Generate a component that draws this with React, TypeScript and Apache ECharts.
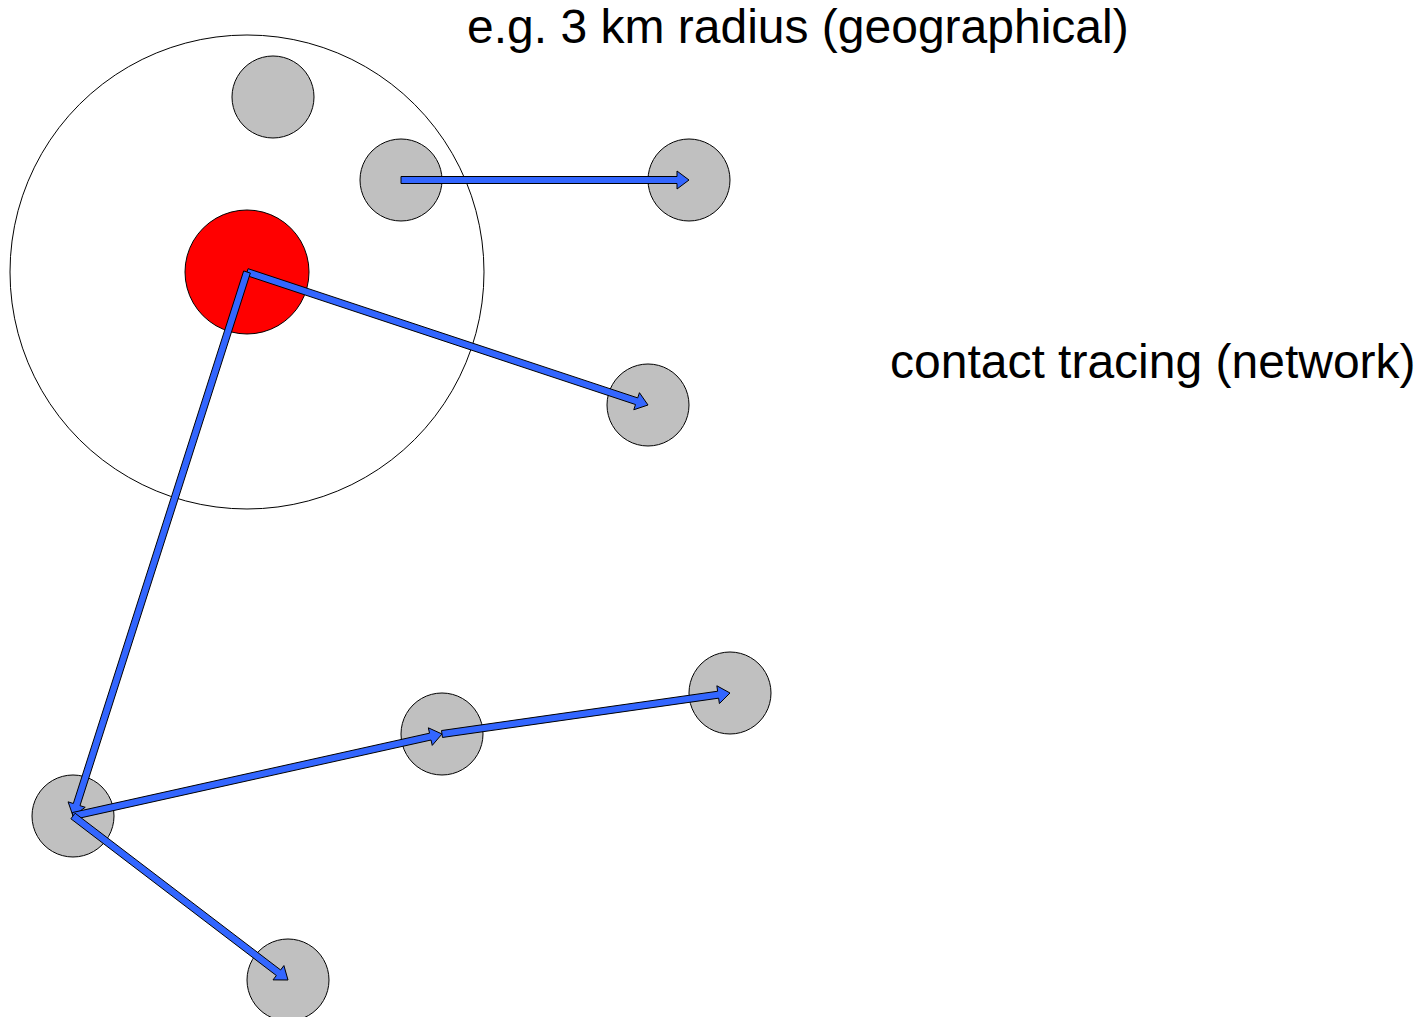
import React, { useEffect, useRef } from "react";
import * as echarts from "echarts";

// Outer geographical radius circle: [cx, cy, diameter]
const radiusCircle = [[247, 272, 474]];
// Index case (red)
const indexCase = [[247, 272, 124]];
// Contacts (gray): [x, y]
const contacts = [
  [273, 97],
  [401, 180],
  [689, 180],
  [648, 405],
  [73, 816],
  [442, 734],
  [730, 693],
  [288, 980],
];
const contactDiameter = 82;
// Contact-tracing links: [x1, y1, x2, y2]
const links = [
  [401, 180, 689, 180],
  [247, 272, 648, 405],
  [247, 272, 73, 816],
  [73, 816, 442, 734],
  [442, 734, 730, 693],
  [73, 816, 288, 980],
];
const labels = [
  { text: "e.g. 3 km radius (geographical)", x: 467, y: 26 },
  { text: "contact tracing (network)", x: 890, y: 361 },
];

const W = 1420;
const H = 1017;

export default function App() {
  const ref = useRef<HTMLDivElement>(null);
  useEffect(() => {
    if (!ref.current) return;
    const chart = echarts.init(ref.current, undefined, { renderer: "svg" });
    const shaftHalf = 3.5;
    const headHalf = 9;
    const headLen = 12;
    chart.setOption({
      animation: false,
      backgroundColor: "#ffffff",
      grid: { left: 0, right: 0, top: 0, bottom: 0 },
      xAxis: { type: "value", min: 0, max: W, show: false },
      yAxis: { type: "value", min: 0, max: H, inverse: true, show: false },
      series: [
        {
          type: "scatter",
          data: radiusCircle,
          symbol: "circle",
          symbolSize: (v: number[]) => v[2],
          itemStyle: { color: "rgba(0,0,0,0)", borderColor: "#000", borderWidth: 1, opacity: 1 },
          silent: true,
          z: 1,
        },
        {
          type: "scatter",
          data: indexCase,
          symbol: "circle",
          symbolSize: (v: number[]) => v[2],
          itemStyle: { color: "#ff0000", borderColor: "#000", borderWidth: 1, opacity: 1 },
          z: 2,
        },
        {
          type: "scatter",
          data: contacts,
          symbol: "circle",
          symbolSize: contactDiameter,
          itemStyle: { color: "#c0c0c0", borderColor: "#000", borderWidth: 1, opacity: 1 },
          z: 2,
        },
        {
          type: "custom",
          data: links,
          encode: { x: [0, 2], y: [1, 3] },
          z: 3,
          renderItem: (params: any, api: any) => {
            const p1 = api.coord([api.value(0), api.value(1)]);
            const p2 = api.coord([api.value(2), api.value(3)]);
            const dx = p2[0] - p1[0];
            const dy = p2[1] - p1[1];
            const len = Math.sqrt(dx * dx + dy * dy);
            const ux = dx / len;
            const uy = dy / len;
            const nx = -uy;
            const ny = ux;
            const local = [
              [0, -shaftHalf],
              [len - headLen, -shaftHalf],
              [len - headLen, -headHalf],
              [len, 0],
              [len - headLen, headHalf],
              [len - headLen, shaftHalf],
              [0, shaftHalf],
            ];
            const pts = local.map(([a, b]) => [
              p1[0] + ux * a + nx * b,
              p1[1] + uy * a + ny * b,
            ]);
            return {
              type: "polygon",
              shape: { points: pts },
              style: { fill: "#3366ff", stroke: "#000", lineWidth: 1 },
            };
          },
        },
      ],
      graphic: labels.map((l) => ({
        type: "text",
        x: l.x,
        y: l.y,
        style: {
          text: l.text,
          fill: "#000",
          verticalAlign: "middle",
          align: "left",
          font: '48px "Liberation Sans", Arial, sans-serif',
        },
      })),
    });
    return () => chart.dispose();
  }, []);
  return (
    <div
      ref={ref}
      style={{ position: "fixed", left: 0, top: 0, width: W, height: H, background: "#fff" }}
    />
  );
}
